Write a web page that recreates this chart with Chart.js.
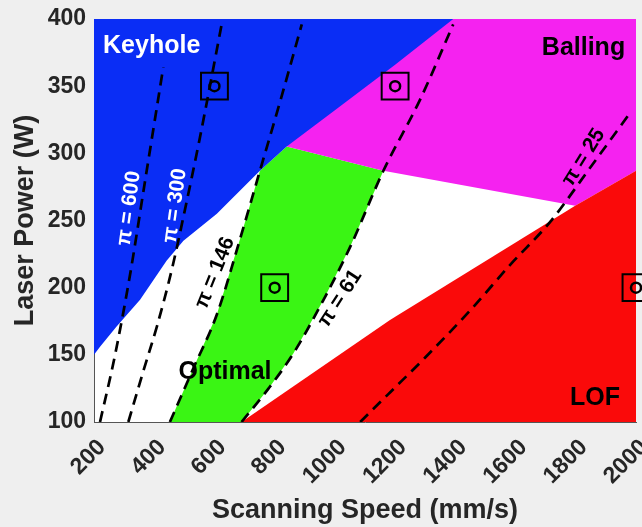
<!DOCTYPE html>
<html>
<head>
<meta charset="utf-8">
<script src="https://cdn.jsdelivr.net/npm/chart.js@4.4.1/dist/chart.umd.min.js"></script>
<style>
  html, body { margin: 0; padding: 0; background: #efefef; }
  canvas { display: block; }
</style>
</head>
<body>
<canvas id="map" width="642" height="527"></canvas>
<script>
// axis ticks
const speedTicks = [200, 400, 600, 800, 1000, 1200, 1400, 1600, 1800, 2000];
const powerTicks = [100, 150, 200, 250, 300, 350, 400];

// region edges, [speed mm/s, power W]
const keyholeEdge = [[200, 150], [220, 156], [275, 171], [353, 191], [441, 220], [497, 235],
                     [608, 255], [751, 287], [840, 305], [1000, 332], [1200, 366], [1393, 400]];
const ballingEdge = [[840, 305], [1161, 287], [1798, 261], [2000, 287]];
const optimalEdge = [[452, 100], [530, 140], [608, 180], [690, 240], [751, 287], [840, 305], [1161, 287]];
const lofEdge = [[690, 100], [1183, 176], [1798, 261], [2000, 287]];

// constant pi lines
const pi600 = [[220, 100], [270, 150], [320, 210], [370, 280], [430, 364]];
const pi300 = [[314, 100], [364, 138], [410, 172], [460, 215], [502, 258], [552, 312], [624, 396]];
const pi146 = [[452, 100], [530, 140], [608, 180], [690, 240], [751, 287], [820, 340], [890, 396]];
const pi61 = [[690, 100], [780, 125], [862, 151], [960, 190], [1050, 230], [1161, 287], [1283, 340], [1393, 396]];
const pi25 = [[1084, 100], [1183, 122], [1300, 148], [1449, 183], [1582, 217], [1715, 249], [1850, 290], [1980, 330]];

// sample points
const samples = [[600, 350], [1200, 350], [800, 200], [2000, 200]];

const xy = arr => arr.map(p => ({x: p[0], y: p[1]}));

function region(data, color, fill, order) {
    return {data: xy(data), borderWidth: 0, borderColor: color, backgroundColor: color,
            fill: fill, pointRadius: 0, order: order};
}
function piLine(data) {
    return {data: xy(data), borderColor: '#000', borderWidth: 2.7, borderDash: [11, 7],
            fill: false, pointRadius: 0, cubicInterpolationMode: 'monotone', order: 3};
}

const notes = [
    {text: 'Keyhole', x: 230, y: 380, color: '#fff', align: 'left', size: 25, rot: 0},
    {text: 'Balling', x: 1964, y: 378, color: '#000', align: 'right', size: 25, rot: 0},
    {text: 'Optimal', x: 635, y: 137, color: '#000', align: 'center', size: 25, rot: 0},
    {text: 'LOF', x: 1864, y: 118, color: '#000', align: 'center', size: 25, rot: 0},
    {text: 'π = 600', x: 316, y: 259, color: '#fff', align: 'center', size: 21, rot: -82},
    {text: 'π = 300', x: 469, y: 261, color: '#fff', align: 'center', size: 21, rot: -82},
    {text: 'π = 146', x: 602, y: 211, color: '#000', align: 'center', size: 21, rot: -68},
    {text: 'π = 61', x: 1017, y: 192, color: '#000', align: 'center', size: 21, rot: -57},
    {text: 'π = 25', x: 1826, y: 297, color: '#000', align: 'center', size: 21, rot: -58}
];

const background = {
    id: 'background',
    beforeDraw(chart) {
        const {ctx, chartArea: a} = chart;
        ctx.save();
        ctx.fillStyle = '#efefef';
        ctx.fillRect(0, 0, chart.width, chart.height);
        ctx.fillStyle = '#fff';
        ctx.fillRect(a.left, a.top, a.right - a.left, a.bottom - a.top);
        ctx.restore();
    }
};

const mapText = {
    id: 'mapText',
    afterDatasetsDraw(chart) {
        const {ctx, scales: {x, y}} = chart;
        notes.forEach(n => {
            ctx.save();
            ctx.translate(x.getPixelForValue(n.x), y.getPixelForValue(n.y));
            ctx.rotate(n.rot * Math.PI / 180);
            ctx.font = 'bold ' + n.size + 'px "Liberation Sans", Arial, sans-serif';
            ctx.fillStyle = n.color;
            ctx.textAlign = n.align;
            ctx.textBaseline = 'middle';
            ctx.fillText(n.text, 0, 0);
            ctx.restore();
        });
    }
};

const tickFont = {family: '"Liberation Sans", Arial, sans-serif', size: 23, weight: 'bold'};
const titleFont = {family: '"Liberation Sans", Arial, sans-serif', size: 27, weight: 'bold', lineHeight: 1};

new Chart(document.getElementById('map').getContext('2d'), {
    type: 'line',
    data: {
        datasets: [
            region(optimalEdge, '#3af514', 'start', 12),
            region(pi61, '#ffffff', 'start', 11),
            region(ballingEdge, '#f522f0', 'end', 10),
            region(lofEdge, '#fa0a0a', 'start', 7),
            region(keyholeEdge, '#0a2df5', 'end', 6),
            piLine(pi600), piLine(pi300), piLine(pi146), piLine(pi61), piLine(pi25),
            {data: xy(samples), showLine: false, pointStyle: 'rect', pointRadius: 19,
             pointBorderWidth: 2, pointBorderColor: '#000', pointBackgroundColor: 'rgba(0,0,0,0)',
             clip: false, order: 1},
            {data: xy(samples), showLine: false, pointStyle: 'circle', pointRadius: 5,
             pointBorderWidth: 2.5, pointBorderColor: '#000', pointBackgroundColor: 'rgba(0,0,0,0)',
             clip: false, order: 1}
        ]
    },
    options: {
        responsive: false,
        animation: false,
        events: [],
        layout: {autoPadding: false, padding: {top: 19, right: 6}},
        plugins: {legend: {display: false}, tooltip: {enabled: false}},
        scales: {
            x: {
                type: 'linear', min: speedTicks[0], max: speedTicks[speedTicks.length - 1],
                afterBuildTicks: s => { s.ticks = speedTicks.map(v => ({value: v})); },
                afterFit: s => { s.height = 105; s.paddingLeft = 0; s.paddingRight = 0; },
                grid: {display: false, drawTicks: false},
                border: {display: true, color: '#555', width: 1},
                ticks: {font: tickFont, color: '#262626', maxRotation: 45, minRotation: 45,
                        padding: 12, labelOffset: 8, callback: v => String(v)},
                title: {display: true, text: 'Scanning Speed (mm/s)', font: titleFont, color: '#262626',
                        padding: {top: 0, bottom: 3}}
            },
            y: {
                type: 'linear', min: powerTicks[0], max: powerTicks[powerTicks.length - 1],
                afterBuildTicks: s => { s.ticks = powerTicks.map(v => ({value: v})); },
                afterFit: s => { s.width = 94; s.paddingTop = 0; s.paddingBottom = 0; },
                grid: {display: false, drawTicks: false},
                border: {display: true, color: '#555', width: 1},
                ticks: {font: tickFont, color: '#262626', padding: 8, callback: v => String(v)},
                title: {display: true, text: 'Laser Power (W)', font: titleFont, color: '#262626',
                        padding: {top: 12, bottom: 0}}
            }
        }
    },
    plugins: [background, mapText]
});
</script>
</body>
</html>
